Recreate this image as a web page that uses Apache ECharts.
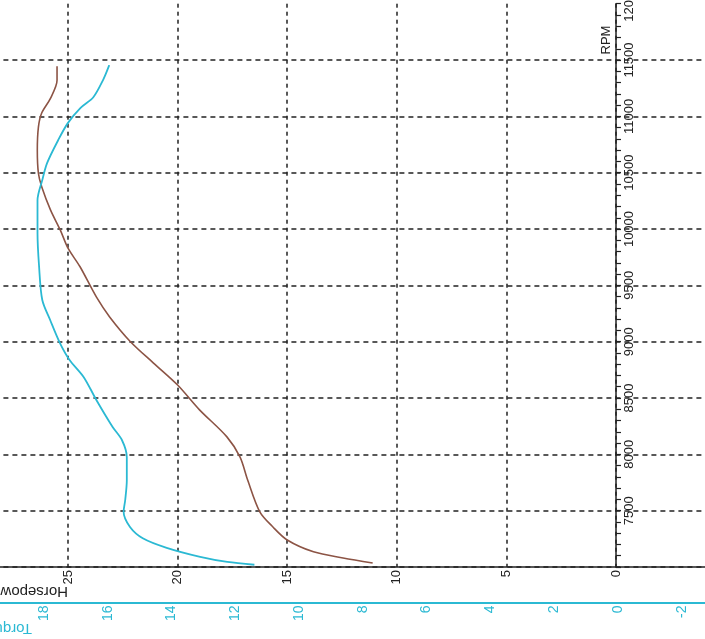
<!DOCTYPE html>
<html>
<head>
<meta charset="utf-8">
<script src="https://cdn.jsdelivr.net/npm/echarts@6/dist/echarts.min.js"></script>
<style>
html,body{margin:0;padding:0;background:#fff;}
#chart{width:705px;height:639px;}
</style>
</head>
<body>
<div id="chart"></div>
<script>
// Horsepower curve (brown)
const hpRpm = [7035, 7080, 7135, 7240, 7355, 7490, 7770, 7975, 8155, 8395, 8615, 8810, 9000, 9220, 9395, 9665, 9830, 9990, 10170, 10375, 10495, 10700, 10905, 11030, 11160, 11320, 11445];
const hpValues = [11.1, 12.45, 13.8, 15.0, 15.65, 16.25, 16.8, 17.15, 17.75, 19.0, 20.0, 21.1, 22.15, 23.1, 23.7, 24.45, 25.0, 25.35, 25.8, 26.2, 26.35, 26.4, 26.35, 26.2, 25.8, 25.5, 25.5];
// Torque curve (cyan)
const tqRpm = [7020, 7045, 7090, 7170, 7255, 7355, 7490, 7595, 7770, 7975, 8125, 8245, 8480, 8685, 8840, 8990, 9190, 9370, 9665, 9965, 10255, 10435, 10585, 10790, 10940, 11075, 11170, 11320, 11455];
const tqValues = [11.4, 12.25, 13.1, 14.15, 14.9, 15.3, 15.5, 15.45, 15.4, 15.4, 15.55, 15.85, 16.35, 16.75, 17.2, 17.5, 17.8, 18.05, 18.15, 18.2, 18.2, 18.05, 17.9, 17.55, 17.25, 16.85, 16.45, 16.15, 15.95];
// Tick labels
const torqueTicks = [-2, 0, 2, 4, 6, 8, 10, 12, 14, 16, 18];

const FONT = "'Liberation Sans Narrow', 'Liberation Sans', Arial, sans-serif";
const NAMEFONT = "'Liberation Sans', Arial, sans-serif";
const BROWN = '#8c5445';
const CYAN = '#2bb9d3';

const chart = echarts.init(document.getElementById('chart'), null, {renderer: 'canvas'});

const option = {
  backgroundColor: '#ffffff',
  animation: false,
  grid: {left: -41.6, right: -20.6, top: 3.7, bottom: 72, containLabel: false, outerBoundsMode: 'none'},
  xAxis: [
    {
      type: 'value', inverse: true, min: -5, max: 30, interval: 5,
      position: 'bottom',
      axisLine: {onZero: false, lineStyle: {color: '#222', width: 1.5}},
      axisTick: {show: false},
      axisLabel: {rotate: 90, margin: 3, color: '#222', fontSize: 13, fontFamily: FONT, formatter: v => String(v)},
      splitLine: {show: true, lineStyle: {color: '#222', width: 1.5, type: [4, 4]}}
    },
    {
      type: 'value', inverse: true, min: -3.373, max: 20.68,
      position: 'bottom', offset: 35.5,
      axisLine: {onZero: false, lineStyle: {color: CYAN, width: 2}},
      axisTick: {show: false},
      axisLabel: {rotate: 90, margin: 3, color: CYAN, fontSize: 14, fontFamily: FONT, customValues: torqueTicks, formatter: v => String(v)},
      splitLine: {show: false}
    }
  ],
  yAxis: [
    {
      type: 'value', min: 7000, max: 12000, interval: 500,
      position: 'right', offset: -109.6,
      axisLine: {show: true, onZero: false, lineStyle: {color: '#222', width: 1.5}},
      axisTick: {show: true, length: 5, lineStyle: {color: '#222', width: 1.2}},
      minorTick: {show: true, splitNumber: 5, length: 5, lineStyle: {color: '#222', width: 1.2}},
      axisLabel: {rotate: 90, margin: 7, color: '#222', fontSize: 13, fontFamily: FONT, showMinLabel: false, formatter: v => String(v)},
      splitLine: {show: true, showMaxLine: false, lineStyle: {color: '#222', width: 1.5, type: [5, 4]}}
    }
  ],
  graphic: [
    {type: 'text', x: 68, y: 591, rotation: Math.PI, silent: true,
     style: {text: 'Horsepower', fill: '#222', font: '15px ' + NAMEFONT, align: 'left', verticalAlign: 'middle'}},
    {type: 'text', x: 32, y: 628, rotation: Math.PI, silent: true,
     style: {text: 'Torque', fill: CYAN, font: '15px ' + NAMEFONT, align: 'left', verticalAlign: 'middle'}},
    {type: 'text', x: 606, y: 40, rotation: Math.PI / 2, silent: true,
     style: {text: 'RPM', fill: '#222', font: '13px ' + FONT, align: 'center', verticalAlign: 'middle'}}
  ],
  series: [
    {
      name: 'Horsepower', type: 'line', xAxisIndex: 0, yAxisIndex: 0,
      showSymbol: false, smooth: 0.3,
      lineStyle: {color: BROWN, width: 1.6},
      data: hpRpm.map((r, i) => [hpValues[i], r])
    },
    {
      name: 'Torque', type: 'line', xAxisIndex: 1, yAxisIndex: 0,
      showSymbol: false, smooth: 0.3,
      lineStyle: {color: CYAN, width: 1.8},
      data: tqRpm.map((r, i) => [tqValues[i], r])
    }
  ]
};
chart.setOption(option);
</script>
</body>
</html>
